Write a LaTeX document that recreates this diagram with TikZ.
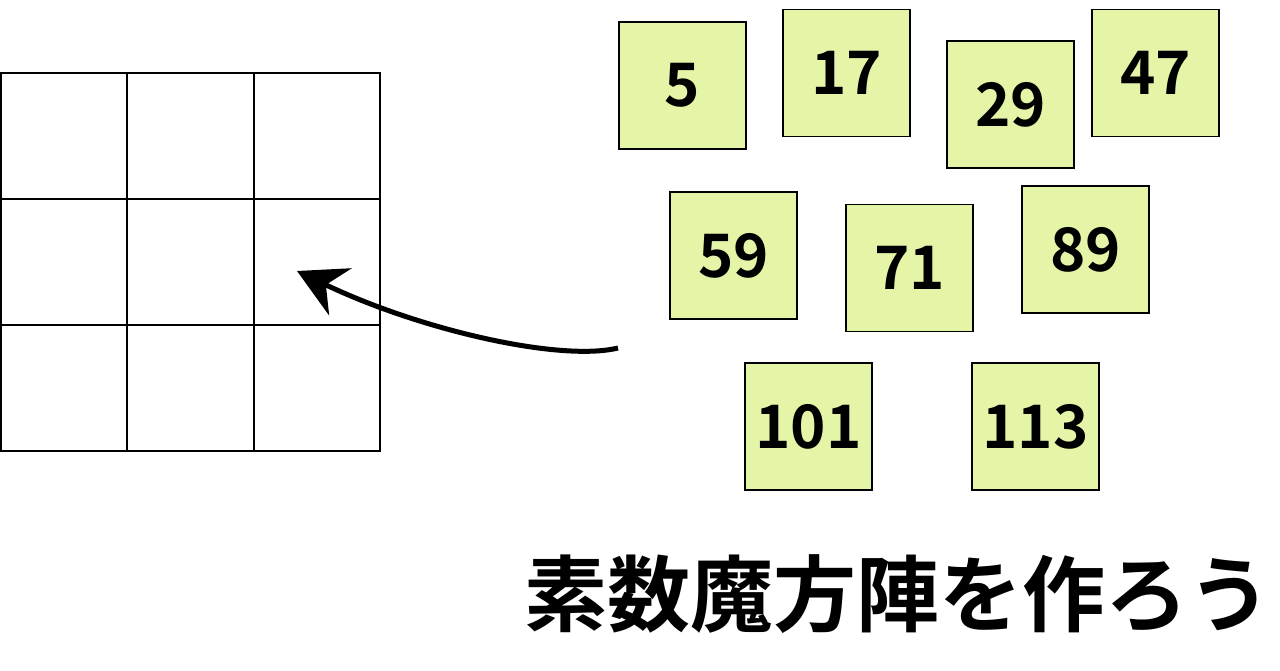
\documentclass[tikz,border=0pt]{standalone}
\usepackage{fontspec}
\setmainfont{Noto Sans}
\newfontfamily\cjk{Noto Sans CJK JP}[BoldFont={* Bold}]
\usetikzlibrary{arrows.meta}
\definecolor{tile}{HTML}{E4F5A8}
\tikzset{
  tilebox/.style={draw=black, line width=1.5pt, fill=tile, minimum width=127pt, minimum height=127pt, inner sep=0pt, font=\cjk\bfseries\fontsize{60}{62}\selectfont},
  gridline/.style={line width=2pt},
}
\begin{document}
\begin{tikzpicture}[x=1pt,y=-1pt]
\useasboundingbox[fill=white] (0,0) rectangle (1280,670);
\draw[gridline] (1,73) rectangle (380,451);
\foreach \x in {127.3,253.6} \draw[gridline] (\x,73) -- (\x,451);
\foreach \y in {199,325} \draw[gridline] (1,\y) -- (380,\y);
\node[tilebox] (t5) at (682.5,85.5) {5};
\node[tilebox] (t17) at (846.5,73) {17};
\node[tilebox] (t29) at (1010.5,104.5) {29};
\node[tilebox] (t47) at (1155.5,73) {47};
\node[tilebox] (t59) at (733.5,255.5) {59};
\node[tilebox] (t71) at (909.5,268) {71};
\node[tilebox] (t89) at (1085.5,249.5) {89};
\node[tilebox] (t101) at (808.5,426.5) {101};
\node[tilebox] (t113) at (1035.5,426.5) {113};
\coordinate (s) at (618,348);
\coordinate (e) at (297,271);
\draw[line width=5pt, -{Stealth[length=48pt,width=52pt,inset=16pt]}] (s) .. controls (560,362) and (420,330) .. (e);
\node[font=\cjk\bfseries\fontsize{83}{86}\selectfont, anchor=east, inner sep=0pt] (title) at (1272,594) {素数魔方陣を作ろう};
\end{tikzpicture}
\end{document}
